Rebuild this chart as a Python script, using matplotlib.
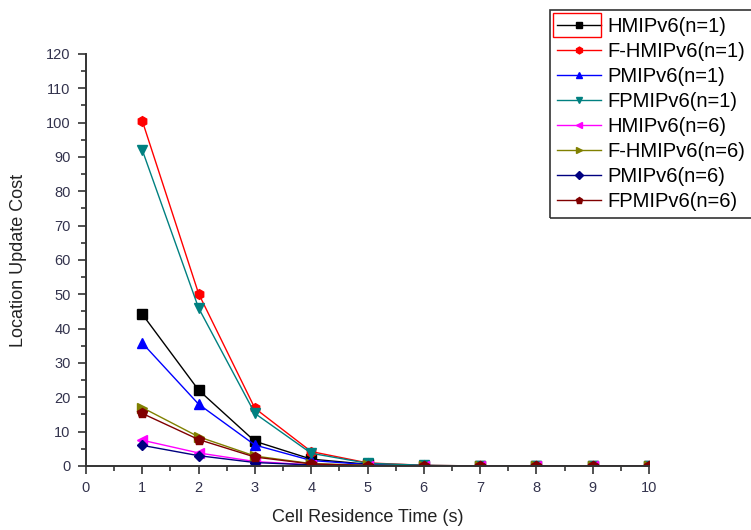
import numpy as np
import matplotlib
matplotlib.use("Agg")
import matplotlib.pyplot as plt
from matplotlib.patches import Rectangle

plt.rcParams['font.family'] = ['Liberation Sans', 'DejaVu Sans']

# datos
t = [1, 2, 3, 4, 5, 6, 7, 8, 9, 10]
hmip_1 = [44.2, 22.1, 7.2, 2.0, 0.5, 0.1, 0.0, 0.0, 0.0, 0.0]
fhmip_1 = [100.5, 50.2, 16.8, 4.2, 0.9, 0.2, 0.0, 0.0, 0.0, 0.0]
pmip_1 = [35.8, 18.0, 6.1, 1.6, 0.4, 0.1, 0.0, 0.0, 0.0, 0.0]
fpmip_1 = [92.0, 46.0, 15.3, 3.7, 0.8, 0.2, 0.0, 0.0, 0.0, 0.0]
hmip_6 = [7.5, 3.8, 1.3, 0.3, 0.1, 0.0, 0.0, 0.0, 0.0, 0.0]
fhmip_6 = [17.0, 8.5, 2.9, 0.7, 0.2, 0.0, 0.0, 0.0, 0.0, 0.0]
pmip_6 = [6.0, 3.0, 1.0, 0.3, 0.1, 0.0, 0.0, 0.0, 0.0, 0.0]
fpmip_6 = [15.3, 7.7, 2.6, 0.6, 0.1, 0.0, 0.0, 0.0, 0.0, 0.0]

series = [
    ("HMIPv6(n=1)", hmip_1, "black", "s"),
    ("F-HMIPv6(n=1)", fhmip_1, "red", "h"),
    ("PMIPv6(n=1)", pmip_1, "blue", "^"),
    ("FPMIPv6(n=1)", fpmip_1, "#008080", "v"),
    ("HMIPv6(n=6)", hmip_6, "#ff00ff", "<"),
    ("F-HMIPv6(n=6)", fhmip_6, "#808000", ">"),
    ("PMIPv6(n=6)", pmip_6, "#000080", "D"),
    ("FPMIPv6(n=6)", fpmip_6, "#800000", "p"),
]

fig = plt.figure(figsize=(7.51, 5.30), dpi=100)
ax = fig.add_axes([0.1145, 0.1208, 0.7497, 0.7774])

for nombre, y, c, m in series:
    ms = 5.5 if m == "D" else 7
    ax.plot(t, y, color=c, marker=m, markersize=ms, linewidth=1, label=nombre)

ax.set_xlim(0, 10)
ax.set_ylim(0, 120)
ax.set_xticks(np.arange(0, 11, 1))
ax.set_yticks(np.arange(0, 121, 10))
ax.set_xticks(np.arange(0.5, 10, 1), minor=True)
ax.set_yticks(np.arange(5, 120, 10), minor=True)
ax.tick_params(which='major', direction='out', length=6, width=1.2, labelsize=10.5, colors='#333', labelcolor='#33334d', pad=5)
ax.tick_params(which='minor', direction='out', length=3.5, width=1.2, colors='#333')
ax.spines['top'].set_visible(False)
ax.spines['right'].set_visible(False)
ax.spines['left'].set_linewidth(1.4)
ax.spines['bottom'].set_linewidth(1.4)
ax.spines['left'].set_color('#333')
ax.spines['bottom'].set_color('#333')

ax.set_xlabel("Cell Residence Time (s)", fontsize=13, color='#222', labelpad=10)
ax.set_ylabel("Location Update Cost", fontsize=13, color='#222', labelpad=14)

leg = ax.legend(loc='upper left', bbox_to_anchor=(0.7323, 0.981),
                bbox_transform=fig.transFigure,
                fontsize=14.5, frameon=True, fancybox=False, edgecolor='none', facecolor='white',
                framealpha=1, handlelength=2.2, handletextpad=0.3, labelspacing=0.3,
                borderpad=0.35, borderaxespad=0, markerscale=0.7)

# recuadro de la leyenda que se sale por la derecha, como en el original
fig.canvas.draw()
bb = leg.get_window_extent().transformed(fig.transFigure.inverted())
fig.patches.append(Rectangle((bb.x0, bb.y0), 0.4, bb.height, transform=fig.transFigure,
                             fill=False, edgecolor='#333', linewidth=1.2, zorder=10))

fig.patches.append(Rectangle((0.7364, 0.9302), 0.0639, 0.0453, transform=fig.transFigure,
                             fill=False, edgecolor='red', linewidth=1))

fig.savefig("out.png", dpi=100)
